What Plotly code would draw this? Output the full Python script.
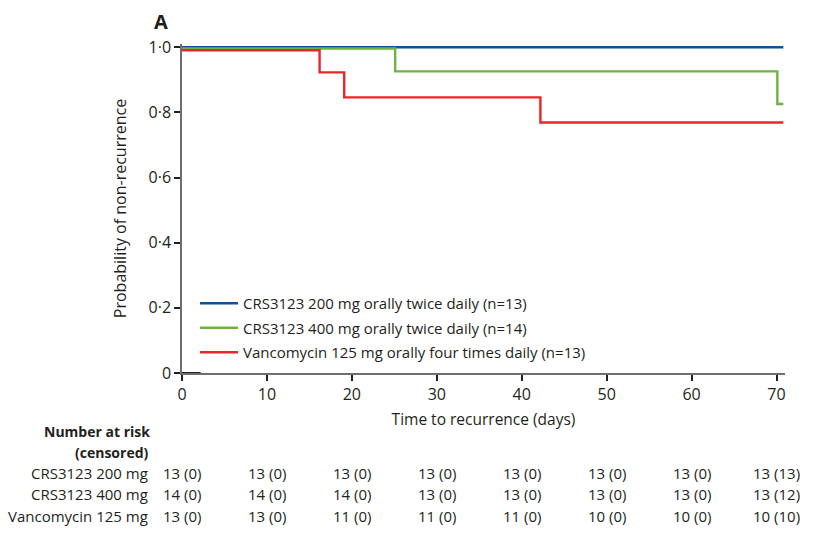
import plotly.graph_objects as go

# ---- data ----
series_names = [
    "CRS3123 200 mg orally twice daily (n=13)",
    "CRS3123 400 mg orally twice daily (n=14)",
    "Vancomycin 125 mg orally four times daily (n=13)",
]
series_colors = ["#0a519f", "#6db33f", "#e8262a"]

crs200_time = [0, 70.8]
crs200_surv = [1.0, 1.0]
crs400_time = [0, 25.1, 70.1, 70.8]
crs400_surv = [0.996, 0.926, 0.826, 0.826]
vanco_time = [0, 16.2, 19.1, 42.2, 70.8]
vanco_surv = [0.991, 0.923, 0.846, 0.769, 0.769]

x_ticks = [0, 10, 20, 30, 40, 50, 60, 70]
y_ticks = [0, 0.2, 0.4, 0.6, 0.8, 1.0]
y_tick_labels = ["0", "0·2", "0·4", "0·6", "0·8", "1·0"]

risk_row_labels = ["CRS3123 200 mg", "CRS3123 400 mg", "Vancomycin 125 mg"]
risk_crs200 = ["13 (0)", "13 (0)", "13 (0)", "13 (0)", "13 (0)", "13 (0)", "13 (0)", "13 (13)"]
risk_crs400 = ["14 (0)", "14 (0)", "14 (0)", "13 (0)", "13 (0)", "13 (0)", "13 (0)", "13 (12)"]
risk_vanco = ["13 (0)", "13 (0)", "11 (0)", "11 (0)", "11 (0)", "10 (0)", "10 (0)", "10 (10)"]

# ---- layout geometry (page has an 8px body margin) ----
OFF = 8
W, H = 829, 540
Y_TOP = 1.01
x0px, x1px = 182, 785.5          # screen px of x=0 and x=71
y0px, y1px = 373, 47             # screen px of y=0 and y=1.0
ytop_px = y0px - (y0px - y1px) * Y_TOP
L = x0px - OFF
R = W - (x1px - OFF)
T = ytop_px - OFF
B = H - (y0px - OFF)
PW = W - L - R
PH = H - T - B
TXT = "#231f20"
FONT = "Open Sans"


def py(ypx):
    return ((y0px) - ypx) / PH


def px(xpx):
    return (xpx - x0px) / PW


fig = go.Figure()
for name, col, xs, ys in zip(
    series_names, series_colors,
    [crs200_time, crs400_time, vanco_time],
    [crs200_surv, crs400_surv, vanco_surv],
):
    fig.add_trace(go.Scatter(
        x=xs, y=ys, mode="lines", name=name, legendgroup=name,
        line=dict(color=col, width=2.4, shape="hv"), cliponaxis=False,
    ))

fig.add_shape(type="line", x0=0, x1=2.2, y0=0, y1=0, xref="x", yref="y",
              line=dict(color=TXT, width=2))

# risk table
rows = [risk_crs200, risk_crs400, risk_vanco]
row_y = [473, 494, 516]
TF = 15
for lab, vals, ypx in zip(risk_row_labels, rows, row_y):
    fig.add_annotation(text=lab, xref="paper", yref="paper", x=px(150),
                       y=py(ypx), xanchor="right", yanchor="middle", showarrow=False,
                       font=dict(size=TF, color=TXT, family=FONT))
    for xv, v in zip(x_ticks, vals):
        fig.add_annotation(text=v, xref="x", yref="paper", x=xv, y=py(ypx),
                           xanchor="center", yanchor="middle", showarrow=False,
                           font=dict(size=TF, color=TXT, family=FONT))

fig.add_annotation(text="<b>Number at risk</b>", xref="paper", yref="paper",
                   x=px(152), y=py(432), xanchor="right", yanchor="middle",
                   showarrow=False, font=dict(size=14, color=TXT, family=FONT))
fig.add_annotation(text="<b>(censored)</b>", xref="paper", yref="paper",
                   x=px(151), y=py(453), xanchor="right", yanchor="middle",
                   showarrow=False, font=dict(size=14, color=TXT, family=FONT))
fig.add_annotation(text="<b>A</b>", xref="paper", yref="paper",
                   x=px(153), y=py(21), xanchor="left", yanchor="middle",
                   borderpad=0, showarrow=False,
                   font=dict(size=20, color=TXT, family=FONT))

fig.update_layout(
    width=W, height=H,
    margin=dict(l=L, r=R, t=T, b=B),
    plot_bgcolor="white", paper_bgcolor="white",
    font=dict(family=FONT, size=16, color=TXT),
    showlegend=True,
    legend=dict(x=px(195), y=py(287), xanchor="left", yanchor="top",
                bgcolor="rgba(0,0,0,0)", font=dict(size=15, color=TXT, family=FONT),
                traceorder="grouped", tracegroupgap=2, itemwidth=38),
    xaxis=dict(range=[0, 71], tickvals=x_ticks, ticks="outside", ticklen=6,
               tickcolor=TXT, tickwidth=1.5, showline=True, linecolor="#6d6e71",
               linewidth=1.5, showgrid=False, zeroline=False,
               title=dict(text="Time to recurrence (days)", standoff=10,
                          font=dict(size=15.5)),
               tickfont=dict(size=16)),
    yaxis=dict(range=[0, Y_TOP], tickvals=y_ticks, ticktext=y_tick_labels,
               ticks="outside", ticklen=6, tickcolor=TXT, tickwidth=1.5,
               showline=True, linecolor="#6d6e71", linewidth=1.5,
               showgrid=False, zeroline=False,
               title=dict(text="Probability of non-recurrence", standoff=18,
                          font=dict(size=16)),
               tickfont=dict(size=16)),
)

fig.write_html("out.html")
